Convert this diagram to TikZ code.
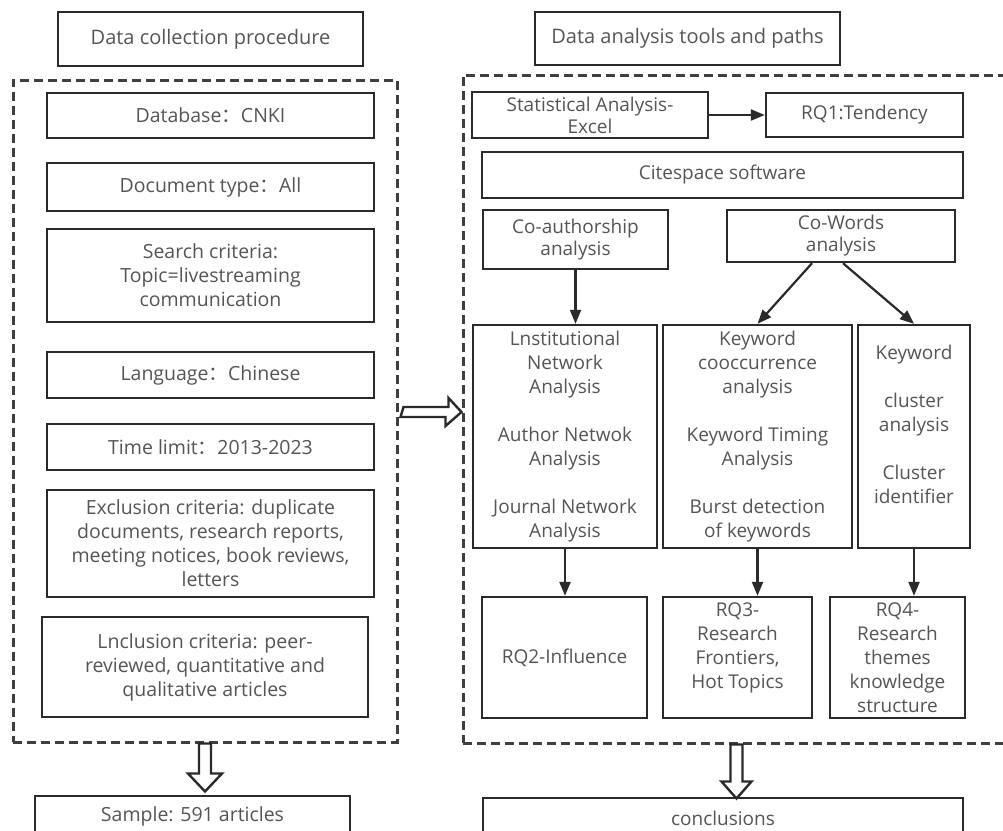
\documentclass[tikz,border=0pt]{standalone}
\usepackage{fontspec}
\setmainfont{Open Sans}
\newfontfamily\cjk{Noto Sans CJK SC}
\usetikzlibrary{arrows.meta,calc}
\definecolor{txt}{HTML}{555555}
\definecolor{edge}{HTML}{2A2A2A}
\begin{document}
\begin{tikzpicture}[x=1pt,y=-1pt,
  bx/.style={draw=edge,line width=2.4pt,text=txt,align=center,inner sep=0pt,
    font=\fontsize{19}{24}\selectfont},
  lft/.style={bx,font=\fontsize{19.5}{24}\selectfont},
  hdr/.style={bx,font=\fontsize{20}{24}\selectfont},
  dbox/.style={draw=edge!90,line width=3pt,dash pattern=on 9pt off 5pt},
  arr/.style={draw=edge,line width=2.2pt,-{Triangle[length=14pt,width=11pt]}},
  hollow/.style={draw=edge,line width=2.4pt,fill=white,line join=miter}]
\useasboundingbox (0,0) rectangle (1003,830);
\fill[white] (0,0) rectangle (1003,830);
\clip (0,0) rectangle (1003,830);
% containers
\node[dbox,minimum width=384pt,minimum height=662pt] (lbox) at (205,411) {};
\node[dbox,minimum width=547pt,minimum height=668pt] (rbox) at (736.5,409) {};
% headers
\node[hdr,minimum width=305pt,minimum height=54pt] (h1) at (210.5,39) {Data collection procedure};
\node[hdr,minimum width=305pt,minimum height=53pt] (h2) at (687.5,38.5) {Data analysis tools and paths};
% left column
\node[lft,minimum width=327pt,minimum height=45pt] (db) at (210.5,115.5) {Database{\cjk ：}CNKI};
\node[lft,minimum width=327pt,minimum height=48pt] (dt) at (210.5,187) {Document type{\cjk ：}All};
\node[lft,minimum width=327pt,minimum height=93pt] (sc) at (210.5,275.5) {Search criteria:\\Topic=livestreaming\\communication};
\node[lft,minimum width=327pt,minimum height=46pt] (lang) at (210.5,375) {Language{\cjk ：}Chinese};
\node[lft,minimum width=327pt,minimum height=46pt] (tl) at (210.5,447) {Time limit{\cjk ：}2013-2023};
\node[lft,minimum width=327pt,minimum height=107pt] (ex) at (210.5,543.5) {Exclusion criteria: duplicate\\documents, research reports,\\meeting notices, book reviews,\\letters};
\node[lft,minimum width=326pt,minimum height=100pt] (inc) at (205,667) {Lnclusion criteria: peer-\\reviewed, quantitative and\\qualitative articles};
\node[lft,minimum width=315pt,minimum height=40pt] (sample) at (192.5,816) {Sample: 591 articles};
% right column
\node[bx,minimum width=236pt,minimum height=46pt] (sa) at (590,115) {Statistical Analysis-\\[-2pt]Excel};
\node[bx,minimum width=197pt,minimum height=44pt] (rq1) at (864.5,115) {RQ1:Tendency};
\node[bx,minimum width=481pt,minimum height=46pt] (cs) at (722.5,175) {Citespace software};
\node[bx,minimum width=185pt,minimum height=59pt] (ca) at (575.5,239.5) {Co-authorship\\[-2pt]analysis};
\node[bx,minimum width=228pt,minimum height=52pt] (cw) at (841,236) {Co-Words\\[-2pt]analysis};
\node[bx,minimum width=184pt,minimum height=223pt] (b1) at (565,436.5) {Lnstitutional\\Network\\Analysis\\\mbox{}\\Author Netwok\\Analysis\\\mbox{}\\Journal Network\\Analysis};
\node[bx,minimum width=189pt,minimum height=223pt] (b2) at (757.5,436.5) {Keyword\\cooccurrence\\analysis\\\mbox{}\\Keyword Timing\\Analysis\\\mbox{}\\Burst detection\\of keywords};
\node[bx,minimum width=112pt,minimum height=223pt] (b3) at (914,436.5) {Keyword\\\mbox{}\\cluster\\analysis\\\mbox{}\\Cluster\\identifier\\\mbox{}};
\node[bx,minimum width=165pt,minimum height=121pt] (r2) at (564.5,657.5) {RQ2-Influence};
\node[bx,minimum width=149pt,minimum height=121pt] (r3) at (737.5,657.5) {RQ3-\\Research\\Frontiers,\\Hot Topics\\\mbox{}};
\node[bx,minimum width=135pt,minimum height=121pt] (r4) at (897.5,657.5) {RQ4-\\Research\\themes\\knowledge\\structure};
\node[bx,minimum width=480pt,minimum height=40pt] (concl) at (723,818) {conclusions};
% connectors
\draw[arr] (sa.east) -- (rq1.west);
\draw[arr] (ca.south) -- (ca.south |- b1.north);
\draw[arr] ($(cw.south)+(-29,0)$) -- (b2.north);
\draw[arr] ($(cw.south)+(2,0)$) -- (b3.north);
\draw[arr] (b1.south) -- (b1.south |- r2.north);
\draw[arr] (b2.south) -- (b2.south |- r3.north);
\draw[arr] (b3.south) -- (b3.south |- r4.north);
% hollow block arrows
\draw[hollow] (lbox.south) ++(-6,0) -- ++(0,30) -- ++(-11,0) -- ++(17,18) -- ++(17,-18) -- ++(-11,0) -- ++(0,-30) -- cycle;
\draw[hollow] (rbox.south) ++(-6,0) -- ++(0,37) -- ++(-9,0) -- ++(15,17) -- ++(15,-17) -- ++(-9,0) -- ++(0,-37) -- cycle;
\coordinate (ra) at ($(lbox.east)+(5,1)$);
\draw[hollow] (ra) ++(0,-5) -- ++(45,0) -- ++(0,-9) -- (rbox.west |- ra) -- ++(-16,14) -- ++(0,-9) -- ++(-45,0) -- cycle;
\end{tikzpicture}
\end{document}
